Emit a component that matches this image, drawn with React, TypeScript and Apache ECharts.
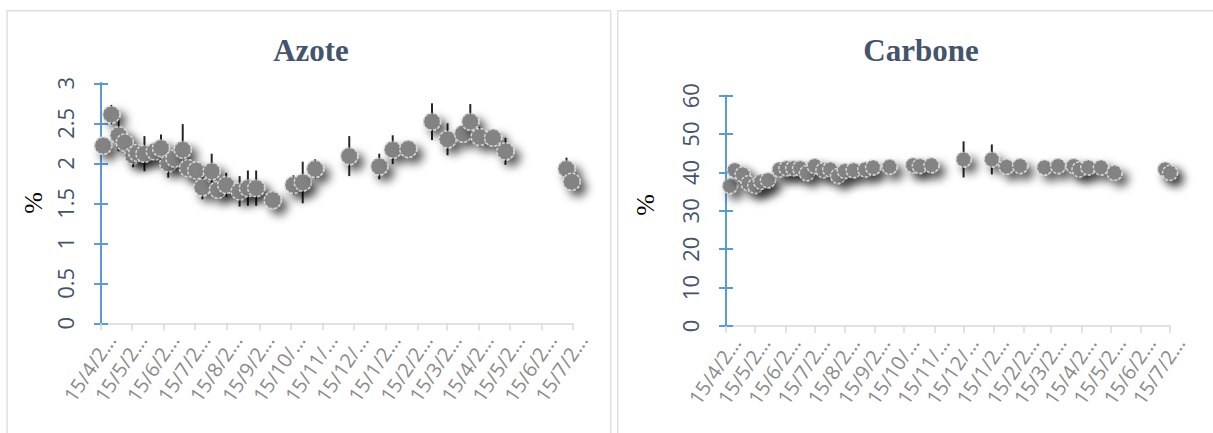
import React, { useEffect, useRef } from "react";
import * as echarts from "echarts";

// Sampling dates and measured contents (mean ± standard deviation)
const azoteDates = [
  "2016-04-17", "2016-04-25", "2016-05-02", "2016-05-08", "2016-05-16", "2016-05-20",
  "2016-05-27", "2016-06-06", "2016-06-12", "2016-06-19", "2016-06-25", "2016-07-03",
  "2016-07-08", "2016-07-16", "2016-07-22", "2016-07-31", "2016-08-06", "2016-08-14",
  "2016-08-27", "2016-09-04", "2016-09-12", "2016-09-28", "2016-10-18", "2016-10-27",
  "2016-11-08", "2016-12-11", "2017-01-09", "2017-01-22", "2017-02-06", "2017-03-01",
  "2017-03-16", "2017-03-31", "2017-04-07", "2017-04-16", "2017-04-29", "2017-05-11",
  "2017-07-09", "2017-07-14",
];
const azoteValues = [
  2.22, 2.61, 2.35, 2.26, 2.1, 2.13, 2.12, 2.15, 2.19, 2.0, 2.06, 2.17, 1.94, 1.91, 1.7, 1.9,
  1.67, 1.73, 1.65, 1.69, 1.69, 1.54, 1.73, 1.76, 1.93, 2.09, 1.96, 2.17, 2.18, 2.52, 2.3, 2.37,
  2.52, 2.33, 2.32, 2.15, 1.93, 1.77,
];
const azoteErrors = [
  0, 0.12, 0.2, 0.1, 0.15, 0, 0.22, 0.1, 0.17, 0.18, 0, 0.32, 0.08, 0.05, 0.15, 0.22, 0.05, 0.15,
  0.19, 0.22, 0.22, 0, 0.12, 0.26, 0.12, 0.25, 0.16, 0.18, 0.1, 0.23, 0.2, 0.05, 0.22, 0.12, 0.1,
  0.17, 0.14, 0,
];

const carboneDates = [
  "2016-04-19", "2016-04-24", "2016-05-02", "2016-05-08", "2016-05-15", "2016-05-21",
  "2016-05-28", "2016-06-09", "2016-06-16", "2016-06-23", "2016-06-30", "2016-07-07",
  "2016-07-15", "2016-07-24", "2016-07-31", "2016-08-08", "2016-08-15", "2016-08-24",
  "2016-09-05", "2016-09-13", "2016-09-30", "2016-10-24", "2016-10-31", "2016-11-12",
  "2016-12-15", "2017-01-13", "2017-01-28", "2017-02-11", "2017-03-08", "2017-03-22",
  "2017-04-07", "2017-04-13", "2017-04-22", "2017-05-05", "2017-05-19", "2017-07-10",
  "2017-07-15",
];
const carboneValues = [
  36.5, 40.6, 39.5, 37.2, 36.5, 37.6, 38.0, 40.8, 41.1, 41.1, 41.1, 39.8, 41.7, 40.6, 40.8, 39.1,
  40.4, 40.6, 40.8, 41.3, 41.5, 41.9, 41.7, 41.9, 43.4, 43.4, 41.5, 41.7, 41.3, 41.7, 41.7, 40.8,
  41.3, 41.3, 39.9, 40.8, 39.9,
];
const carboneErrors = [
  1.2, 1.0, 1.5, 1.1, 0.8, 1.3, 1.0, 0.9, 1.2, 1.0, 0.8, 1.4, 1.1, 0.9, 1.0, 1.2, 0.8, 1.0, 0.9,
  1.1, 1.0, 0.9, 1.0, 1.2, 4.7, 3.9, 1.0, 0.9, 1.1, 1.0, 1.2, 0.9, 1.0, 1.1, 0.8, 1.0, 0.9,
];

// Monthly ticks on the 15th, from 15/4/2016 to 15/7/2017
const tickStart = { year: 2016, month: 4 };
const tickCount = 16;

const azoteTicks = [0, 0.5, 1, 1.5, 2, 2.5, 3];
const carboneTicks = [0, 10, 20, 30, 40, 50, 60];

// vertical stretch applied to the whole drawing
const SY = 1;
const yy = (v: number) => v / SY;

function toTime(s: string): number {
  const [y, m, d] = s.split("-").map(Number);
  return new Date(y, m - 1, d).getTime();
}

const monthTicks: number[] = Array.from({ length: tickCount }, (_, i) =>
  new Date(tickStart.year, tickStart.month - 1 + i, 15).getTime()
);

function tickLabel(v: number): string {
  const m = new Date(v).getMonth() + 1;
  return m >= 10 ? `15/${m}/...` : `15/${m}/2...`;
}

const LABEL_BLUE = "#44546A";
const AXIS_BLUE = "#5B9BD5";
const LIGHT = "#D9D9D9";

// plot areas and the slightly offset areas that carry the rotated date labels
const LABEL_SHIFT = 10;
const plots = [
  { left: 101, top: 83.3, width: 471.7, height: 240 },
  { left: 726, top: 95.7, width: 444, height: 230.3 },
];

function gridOf(p: { left: number; top: number; width: number; height: number }, dx = 0) {
  return { left: p.left + dx, top: yy(p.top), width: p.width, height: yy(p.height) };
}

function xAxisFor(gridIndex: number) {
  return {
    type: "value",
    gridIndex,
    min: monthTicks[0],
    max: monthTicks[monthTicks.length - 1],
    splitLine: { show: false },
    axisLine: { show: true, onZero: false, lineStyle: { color: LIGHT, width: 1.5 } },
    axisTick: {
      show: true,
      customValues: monthTicks,
      length: 7,
      lineStyle: { color: LIGHT, width: 1.5 },
    },
    axisLabel: { show: false },
  };
}

function xLabelAxisFor(gridIndex: number) {
  return {
    type: "value",
    gridIndex,
    min: monthTicks[0],
    max: monthTicks[monthTicks.length - 1],
    splitLine: { show: false },
    axisLine: { show: false, onZero: false },
    axisTick: { show: false },
    axisLabel: {
      customValues: monthTicks,
      rotate: 56,
      margin: 13,
      fontSize: 20,
      fontFamily: "Open Sans",
      color: "#8A8A8A",
      formatter: tickLabel,
    },
  };
}

function hiddenYAxis(gridIndex: number) {
  return {
    type: "value",
    gridIndex,
    min: 0,
    max: 1,
    show: false,
  };
}

function yAxesFor(gridIndex: number, ticks: number[]) {
  const min = ticks[0];
  const max = ticks[ticks.length - 1];
  const interval = ticks[1] - ticks[0];
  const base = {
    type: "value",
    gridIndex,
    position: "left",
    min,
    max,
    interval,
    splitLine: { show: false },
    axisLine: { show: true, lineStyle: { color: AXIS_BLUE, width: 2 } },
  };
  return [
    {
      ...base,
      axisTick: { show: true, length: 7, lineStyle: { color: AXIS_BLUE, width: 2 } },
      axisLabel: {
        rotate: 90,
        margin: 25,
        fontSize: 22,
        fontFamily: "Open Sans",
        color: LABEL_BLUE,
      },
    },
    {
      ...base,
      axisTick: { show: true, inside: true, length: 7, lineStyle: { color: AXIS_BLUE, width: 2 } },
      axisLabel: { show: false },
    },
  ];
}

function errorSeries(dates: string[], values: number[], errs: number[], xi: number, yi: number) {
  const data = dates
    .map((d, i) => [toTime(d), values[i] - errs[i], values[i] + errs[i]])
    .filter((_, i) => errs[i] > 0);
  return {
    type: "custom",
    xAxisIndex: xi,
    yAxisIndex: yi,
    z: 1,
    data,
    encode: { x: 0, y: [1, 2] },
    renderItem: (_params: any, api: any) => {
      const x = api.value(0);
      const p1 = api.coord([x, api.value(1)]);
      const p2 = api.coord([x, api.value(2)]);
      return {
        type: "line",
        shape: { x1: p1[0], y1: p1[1], x2: p2[0], y2: p2[1] },
        style: { stroke: "#262626", lineWidth: 2 },
      };
    },
  };
}

function markerSeries(dates: string[], values: number[], xi: number, yi: number, size: number) {
  return {
    type: "scatter",
    xAxisIndex: xi,
    yAxisIndex: yi,
    z: 3,
    symbol: "circle",
    symbolSize: [size, size / SY],
    data: dates.map((d, i) => [toTime(d), values[i]]),
    itemStyle: {
      color: "#838383",
      opacity: 1,
      borderColor: "#D4D4D4",
      borderWidth: 1.5,
      borderType: [3, 1.5],
      shadowBlur: 10,
      shadowColor: "rgba(0,0,0,0.65)",
      shadowOffsetX: 6,
      shadowOffsetY: 6,
    },
  };
}

function panelText(text: string, x: number, y: number, size: number, bold: boolean, fill: string, rotation = 0) {
  return {
    type: "text",
    x,
    y: yy(y),
    rotation,
    style: {
      text,
      fill,
      fontSize: size,
      fontWeight: bold ? "bold" : "normal",
      fontFamily: "Liberation Serif",
      align: "center",
      verticalAlign: "middle",
      textAlign: "center",
      textVerticalAlign: "middle",
    },
  };
}

export default function App() {
  const ref = useRef<HTMLDivElement>(null);

  useEffect(() => {
    if (!ref.current) return;
    const chart = echarts.init(ref.current, null, { renderer: "svg" });
    const option = {
      animation: false,
      backgroundColor: "#ffffff",
      grid: [
        gridOf(plots[0]),
        gridOf(plots[1]),
        gridOf(plots[0], LABEL_SHIFT),
        gridOf(plots[1], LABEL_SHIFT),
      ],
      xAxis: [xAxisFor(0), xAxisFor(1), xLabelAxisFor(2), xLabelAxisFor(3)],
      yAxis: [
        ...yAxesFor(0, azoteTicks),
        ...yAxesFor(1, carboneTicks),
        hiddenYAxis(2),
        hiddenYAxis(3),
      ],
      graphic: [
        {
          type: "rect",
          shape: { x: 7, y: yy(10.7), width: 603.7, height: yy(460) },
          style: { fill: "none", stroke: "#DCE0E6", lineWidth: 1.5 },
        },
        {
          type: "rect",
          shape: { x: 617.7, y: yy(10.7), width: 640, height: yy(460) },
          style: { fill: "none", stroke: "#DCE0E6", lineWidth: 1.5 },
        },
        panelText("Azote", 311, 50, 31, true, LABEL_BLUE),
        panelText("Carbone", 921, 50, 31, true, LABEL_BLUE),
        panelText("%", 33, 203, 26, false, "#000000", Math.PI / 2),
        panelText("%", 645, 205, 26, false, "#000000", Math.PI / 2),
      ],
      series: [
        errorSeries(azoteDates, azoteValues, azoteErrors, 0, 0),
        markerSeries(azoteDates, azoteValues, 0, 0, 17),
        errorSeries(carboneDates, carboneValues, carboneErrors, 1, 2),
        markerSeries(carboneDates, carboneValues, 1, 2, 15),
      ],
    };
    chart.setOption(option as any);
    return () => chart.dispose();
  }, []);

  return (
    <div
      ref={ref}
      style={{
        position: "absolute",
        left: 0,
        top: 0,
        width: 1213,
        height: 433 / SY,
        transform: `scaleY(${SY})`,
        transformOrigin: "0 0",
        background: "#ffffff",
      }}
    />
  );
}
